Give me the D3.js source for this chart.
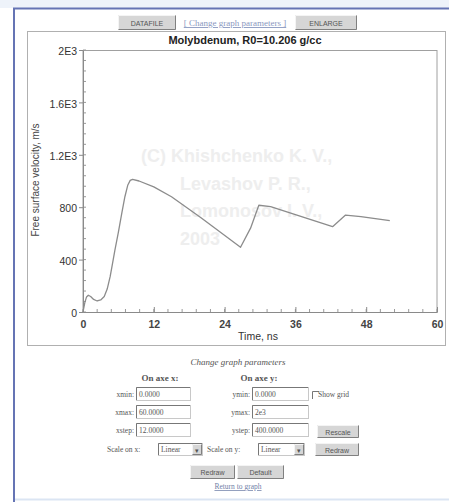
<!DOCTYPE html>
<html><head><meta charset="utf-8">
<script src="https://cdn.jsdelivr.net/npm/d3@7/dist/d3.min.js"></script>
<style>body{margin:0;background:#fff}svg{display:block}</style>
</head><body>
<svg id="c" width="449" height="502"></svg>
<script>
const title = "Molybdenum, R0=10.206 g/cc";
const xLabel = "Time, ns";
const yLabel = "Free surface velocity, m/s";
const xTicks = [0, 12, 24, 36, 48, 60];
const yTicks = [0, 400, 800, 1200, 1600, 2000];
const yTickLabels = ["0", "400", "800", "1.2E3", "1.6E3", "2E3"];
const timeNs = [0, 0.3, 0.6, 0.9, 1.3, 1.8, 2.4, 3.0, 3.6, 4.1, 4.6, 5.0, 5.4, 6.0, 6.6, 7.1, 7.6, 8.0, 8.4, 9.5, 12, 15, 20, 26.7, 28.4, 29.8, 31.8, 42.3, 44.5, 47.1, 52];
const velocity = [0, 70, 115, 128, 118, 96, 84, 92, 118, 175, 270, 370, 470, 610, 760, 880, 970, 1005, 1013, 1000, 955, 880, 720, 494, 640, 815, 804, 651, 740, 728, 697];
const watermark = ["(C) Khishchenko K. V.,", "Levashov P. R.,", "Lomonosov I. V.,", "2003"];

const svg = d3.select("#c");
// page frame
svg.append("rect").attr("x",0).attr("y",0).attr("width",449).attr("height",8).attr("fill","#eef3fa");
svg.append("line").attr("x1",13).attr("x2",449).attr("y1",8.5).attr("y2",8.5).attr("stroke","#6574b4").attr("stroke-width",2);
svg.append("line").attr("x1",14).attr("x2",14).attr("y1",8).attr("y2",502).attr("stroke","#6574b4").attr("stroke-width",2);
svg.append("line").attr("x1",15).attr("x2",449).attr("y1",499.5).attr("y2",499.5).attr("stroke","#dbe5f3").attr("stroke-width",2);

// panel
svg.append("rect").attr("x",27.5).attr("y",31.5).attr("width",418).attr("height",314).attr("fill","#fff").attr("stroke","#b0b0b0");

function button(x,y,w,h,label,fs){
  const g = svg.append("g");
  g.append("rect").attr("x",x).attr("y",y).attr("width",w).attr("height",h).attr("fill","#d6d6d6");
  g.append("path").attr("d",`M${x+0.5},${y+h-0.5}V${y+0.5}H${x+w-0.5}`).attr("fill","none").attr("stroke","#f4f4f4");
  g.append("path").attr("d",`M${x+0.5},${y+h-0.5}H${x+w-0.5}V${y+0.5}`).attr("fill","none").attr("stroke","#808080");
  g.append("text").attr("x",x+w/2).attr("y",y+h/2+3).attr("text-anchor","middle")
    .attr("font-family","Liberation Sans, Arial, sans-serif").attr("font-size",fs||7).attr("fill","#555").text(label);
}
button(118,15,58,15,"DATAFILE");
svg.append("text").attr("x",235).attr("y",26).attr("text-anchor","middle").attr("font-family","Liberation Serif, serif")
  .attr("font-size",9).attr("fill","#8a98c0").text("[ Change graph parameters ]")
  .attr("text-decoration","underline");
button(295,15,62,15,"ENLARGE");

// plot
const m = {l:83, t:50, r:437, b:312};
const x = d3.scaleLinear().domain([0,60]).range([m.l,m.r]);
const y = d3.scaleLinear().domain([0,2000]).range([m.b,m.t]);

// watermark
const wm = svg.append("g").attr("font-family","Liberation Sans, Arial, sans-serif").attr("font-weight","bold")
  .attr("font-size",18).attr("fill","#eeeeee");
watermark.forEach((s,i)=>{
  wm.append("text").attr("x", i===0?141:180).attr("y",162+i*27.5).text(s);
});

svg.append("rect").attr("x",m.l).attr("y",m.t+0.5).attr("width",m.r-m.l).attr("height",m.b-m.t)
  .attr("fill","none").attr("stroke","#a0a0a0");

// minor ticks
const xMinor = d3.range(0,60.01,2.4);
const yMinor = d3.range(0,2000.1,80);
svg.append("g").selectAll("line").data(xMinor).join("line")
  .attr("x1",d=>x(d)).attr("x2",d=>x(d)).attr("y1",m.b).attr("y2",m.b-3).attr("stroke","#9a9a9a");
svg.append("g").selectAll("line").data(yMinor).join("line")
  .attr("x1",m.l).attr("x2",m.l+3).attr("y1",d=>y(d)).attr("y2",d=>y(d)).attr("stroke","#9a9a9a");

const xAxis = svg.append("g").attr("transform",`translate(0,${m.b})`)
  .call(d3.axisBottom(x).tickValues(xTicks).tickSizeInner(-5).tickSizeOuter(0).tickPadding(9));
const yAxis = svg.append("g").attr("transform",`translate(${m.l},0)`)
  .call(d3.axisLeft(y).tickValues(yTicks).tickFormat((d,i)=>yTickLabels[i]).tickSizeInner(4).tickSizeOuter(0).tickPadding(2));
[xAxis,yAxis].forEach(a=>{
  a.select(".domain").attr("stroke","#8a8a8a");
  a.selectAll(".tick line").attr("stroke","#8a8a8a");
  a.selectAll("text").attr("font-family","Liberation Sans, Arial, sans-serif").attr("font-size",10.5).attr("fill","#333");
});
xAxis.selectAll("text").attr("font-weight","bold").attr("fill","#444");
yAxis.selectAll("text").attr("dy","0.45em");

// curve
const line = d3.line().x((d,i)=>x(timeNs[i])).y(d=>y(d));
svg.append("path").datum(velocity).attr("d",line).attr("fill","none").attr("stroke","#8c8c8c").attr("stroke-width",1.3).attr("stroke-linejoin","round");

// titles
svg.append("text").attr("x",245).attr("y",44).attr("text-anchor","middle").attr("font-family","Liberation Sans, Arial, sans-serif")
  .attr("font-weight","bold").attr("font-size",11).attr("fill","#222").text(title);
svg.append("text").attr("x",258).attr("y",340).attr("text-anchor","middle").attr("font-family","Liberation Sans, Arial, sans-serif")
  .attr("font-size",10.5).attr("fill","#333").text(xLabel);
svg.append("text").attr("transform","translate(39,180) rotate(-90)").attr("text-anchor","middle").attr("font-family","Liberation Sans, Arial, sans-serif")
  .attr("font-size",10).attr("fill","#444").text(yLabel);

// form
const F = "Liberation Serif, serif";
function txt(x0,y0,s,opt){
  const t = svg.append("text").attr("x",x0).attr("y",y0).attr("font-family",F).attr("font-size",(opt&&opt.fs)||8.5).attr("fill","#555").text(s);
  if(opt&&opt.anchor) t.attr("text-anchor",opt.anchor);
  if(opt&&opt.bold) t.attr("font-weight","bold");
  if(opt&&opt.italic) t.attr("font-style","italic");
  return t;
}
function input(x0,y0,w,h,val){
  svg.append("rect").attr("x",x0+0.5).attr("y",y0+0.5).attr("width",w).attr("height",h).attr("fill","#fff").attr("stroke","#c8c8c8");
  svg.append("path").attr("d",`M${x0+0.5},${y0+h}V${y0+0.5}H${x0+w}`).attr("fill","none").attr("stroke","#777");
  txt(x0+3,y0+h-3,val,{fs:7.5});
}
txt(238,365,"Change graph parameters",{anchor:"middle",italic:true,fs:9});
txt(160,381,"On axe x:",{anchor:"middle",bold:true,fs:9});
txt(259,381,"On axe y:",{anchor:"middle",bold:true,fs:9});
const rowsY = [387,405,423];
const xLbl = ["xmin:","xmax:","xstep:"], yLbl = ["ymin:","ymax:","ystep:"];
const xVals = ["0.0000","60.0000","12.0000"], yVals = ["0.0000","2e3","400.0000"];
rowsY.forEach((ry,i)=>{
  txt(134,ry+10,xLbl[i],{anchor:"end",fs:7.5});
  input(136,ry,54,13,xVals[i]);
  txt(250,ry+10,yLbl[i],{anchor:"end",fs:7.5});
  input(252,ry,56,13,yVals[i]);
});
svg.append("path").attr("d","M312.5,399V391.5H319").attr("fill","none").attr("stroke","#777");
txt(318,397,"Show grid",{fs:7.5});
button(317,425,42,13,"Rescale",7);
txt(107,452,"Scale on x:",{fs:7.5});
input(158,443,44,12,"Linear");
button(192,444,10,11,"▾",7);
txt(207,452,"Scale on y:",{fs:7.5});
input(258,443,46,12,"Linear");
button(294,444,10,11,"▾",7);
button(315,443,44,13,"Redraw",7);
button(190,465,45,14,"Redraw",7);
button(237,465,47,14,"Default",7);
txt(238,489,"Return to graph",{anchor:"middle",fs:7.5}).attr("text-decoration","underline").attr("fill","#7080a8");
</script>
</body></html>
